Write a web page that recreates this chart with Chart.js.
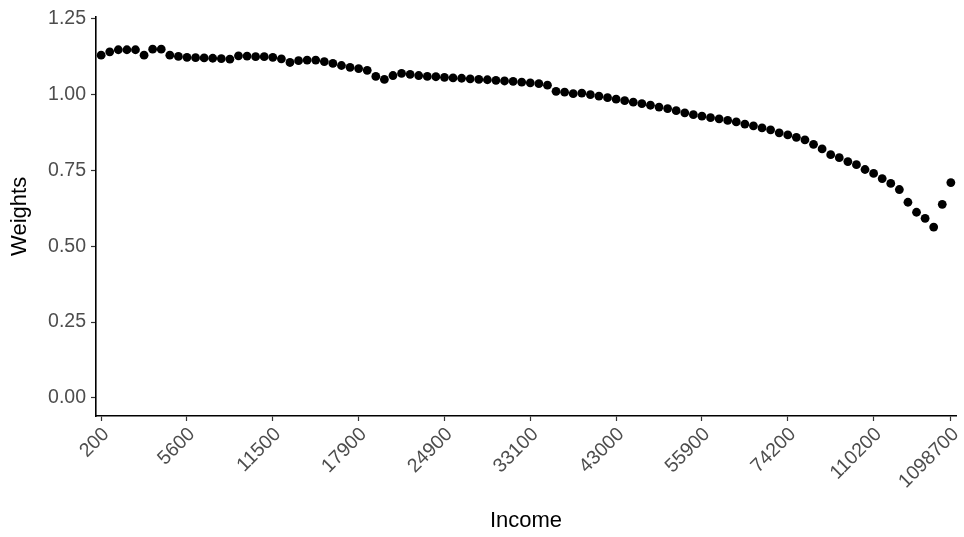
<!DOCTYPE html>
<html>
<head>
<meta charset="utf-8">
<script src="https://cdn.jsdelivr.net/npm/chart.js@4.4.1/dist/chart.umd.min.js"></script>
<style>
    html, body { margin: 0; padding: 0; background: #ffffff; }
</style>
</head>
<body>
<canvas id="weightsChart" width="964" height="537"></canvas>
<script>
// one weight per income category (100 categories, left to right)
const weights = [
    1.130, 1.141, 1.148, 1.148, 1.148, 1.130, 1.150, 1.150, 1.130, 1.126,
    1.123, 1.122, 1.121, 1.120, 1.119, 1.117, 1.128, 1.127, 1.125, 1.125,
    1.123, 1.118, 1.106, 1.112, 1.114, 1.114, 1.109, 1.103, 1.096, 1.090,
    1.086, 1.080, 1.060, 1.050, 1.063, 1.070, 1.067, 1.063, 1.060, 1.059,
    1.057, 1.055, 1.054, 1.052, 1.050, 1.049, 1.047, 1.045, 1.044, 1.041,
    1.039, 1.036, 1.031, 1.011, 1.008, 1.003, 1.005, 1.000, 0.995, 0.990,
    0.985, 0.980, 0.975, 0.970, 0.965, 0.959, 0.954, 0.947, 0.940, 0.934,
    0.929, 0.924, 0.920, 0.915, 0.910, 0.903, 0.897, 0.890, 0.884, 0.874,
    0.867, 0.859, 0.851, 0.836, 0.821, 0.802, 0.792, 0.779, 0.769, 0.753,
    0.740, 0.723, 0.707, 0.687, 0.645, 0.612, 0.592, 0.563, 0.638, 0.710,
];

// which categories get a label on the x axis, and their income values
const tickPositions = [0, 10, 20, 30, 40, 50, 60, 70, 80, 90, 99];
const tickLabels = ['200', '5600', '11500', '17900', '24900', '33100', '43000', '55900', '74200', '110200', '1098700'];

const yTicks = [0, 0.25, 0.5, 0.75, 1, 1.25];

const points = weights.map((w, i) => ({ x: i, y: w }));

const tickFont = { family: 'Liberation Sans, Arial, sans-serif', size: 19.5 };
const titleFont = { family: 'Liberation Sans, Arial, sans-serif', size: 22 };

new Chart(document.getElementById('weightsChart'), {
    type: 'scatter',
    data: {
        datasets: [
            {
                label: 'Weights',
                data: points,
                backgroundColor: '#000000',
                borderWidth: 0,
                pointRadius: 4.4,
                pointHoverRadius: 4.4,
            },
        ],
    },
    options: {
        responsive: false,
        animation: false,
        layout: {
            padding: { top: 14, right: 8, left: 0, bottom: 0 },
        },
        plugins: {
            legend: { display: false },
            tooltip: { enabled: false },
        },
        scales: {
            x: {
                type: 'linear',
                min: -0.6,
                max: 99.6,
                afterBuildTicks: (scale) => {
                    scale.ticks = tickPositions.map((v) => ({ value: v }));
                },
                afterFit: (scale) => {
                    scale.height = 121;
                    scale.paddingLeft = 0;
                    scale.paddingRight = 0;
                },
                ticks: {
                    autoSkip: false,
                    maxRotation: 45,
                    minRotation: 45,
                    padding: 2,
                    labelOffset: 5,
                    color: '#4d4d4d',
                    font: tickFont,
                    callback: (value) => tickLabels[tickPositions.indexOf(value)],
                },
                grid: {
                    drawOnChartArea: false,
                    drawTicks: true,
                    tickLength: 5,
                    tickColor: '#333333',
                    tickWidth: 1.2,
                },
                border: { color: '#000000', width: 1.6 },
                title: {
                    display: true,
                    text: 'Income',
                    color: '#000000',
                    font: titleFont,
                    padding: { top: 0, bottom: 3 },
                },
            },
            y: {
                min: -0.06,
                max: 1.257,
                afterBuildTicks: (scale) => {
                    scale.ticks = yTicks.map((v) => ({ value: v }));
                },
                afterFit: (scale) => {
                    scale.width = 96;
                },
                ticks: {
                    padding: 5,
                    color: '#4d4d4d',
                    font: tickFont,
                    callback: (value) => value.toFixed(2),
                },
                grid: {
                    drawOnChartArea: false,
                    drawTicks: true,
                    tickLength: 5,
                    tickColor: '#333333',
                    tickWidth: 1.2,
                },
                border: { color: '#000000', width: 1.6 },
                title: {
                    display: true,
                    text: 'Weights',
                    color: '#000000',
                    font: titleFont,
                    padding: { top: 7, bottom: 0 },
                },
            },
        },
    },
});
</script>
</body>
</html>
